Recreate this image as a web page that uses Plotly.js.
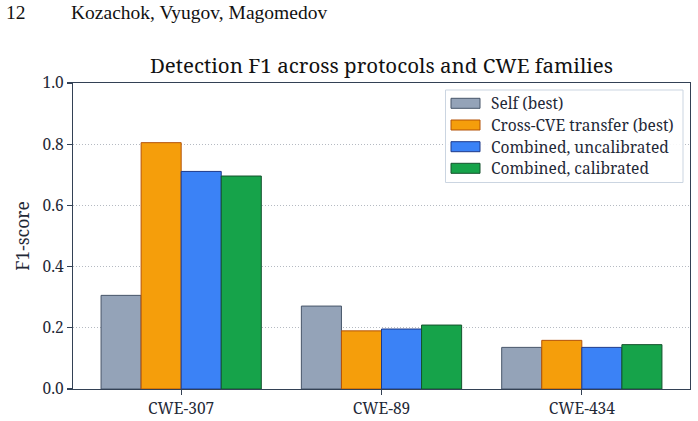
<!DOCTYPE html>
<html>
<head>
<meta charset="utf-8">
<script src="https://cdn.plot.ly/plotly-3.0.1.min.js"></script>
<style>
  html, body { margin: 0; padding: 0; background: #fff; }
  #chart { width: 698px; height: 421px; }
</style>
</head>
<body>
<div id="chart"></div>
<script>
// CWE families on the x axis
const categories = ["CWE-307", "CWE-89", "CWE-434"];

// F1 per evaluation protocol
const seriesNames = [
  "Self (best)",
  "Cross-CVE transfer (best)",
  "Combined, uncalibrated",
  "Combined, calibrated"
];
const selfBest       = [0.306, 0.271, 0.136];
const crossTransfer  = [0.805, 0.190, 0.159];
const combinedUncal  = [0.711, 0.196, 0.136];
const combinedCal    = [0.696, 0.209, 0.145];

const yTickValues = [0.0, 0.2, 0.4, 0.6, 0.8, 1.0];
const yTickLabels = ["0.0", "0.2", "0.4", "0.6", "0.8", "1.0"];

const fills   = ["#94a3b8", "#f59e0b", "#3b82f6", "#16a34a"];
const edges   = ["#475569", "#b45309", "#1e3a8a", "#14532d"];
const values  = [selfBest, crossTransfer, combinedUncal, combinedCal];

const SERIF = "Noto Serif, serif";
const INK = "#1f2937";
const SPINE = "#334155";

const traces = values.map((v, i) => ({
  type: "bar",
  name: seriesNames[i],
  x: categories,
  y: v,
  marker: { color: fills[i], line: { color: edges[i], width: 1 } },
  showlegend: false,
  hoverinfo: "skip"
}));

// Legend drawn as paper-space swatches with wide rectangles
const legendShapes = [];
const legendNotes = [];
const plotL = 73, plotR = 690, plotT = 83, plotB = 389;
const W = 698, H = 421;
const px = x => (x - plotL) / (plotR - plotL);
const py = y => (plotB - y) / (plotB - plotT);

legendShapes.push({
  type: "rect", xref: "paper", yref: "paper",
  x0: px(445.5), x1: px(683), y0: py(182.5), y1: py(90),
  line: { color: "#cbd5e1", width: 1 }, fillcolor: "rgba(255,255,255,0.9)",
  layer: "above"
});
const rowY = [103.3, 125, 146.7, 168.3];
seriesNames.forEach((name, i) => {
  legendShapes.push({
    type: "rect", xref: "paper", yref: "paper",
    x0: px(451), x1: px(480), y0: py(rowY[i] + 5), y1: py(rowY[i] - 5),
    fillcolor: fills[i], line: { color: edges[i], width: 1 }, layer: "above"
  });
  legendNotes.push({
    xref: "paper", yref: "paper", x: px(489), y: py(rowY[i]),
    xanchor: "left", yanchor: "middle", showarrow: false,
    text: name, font: { family: SERIF, size: 15.5, color: INK }
  });
});

// Running head above the figure
legendNotes.push({
  xref: "paper", yref: "paper", x: px(4), y: py(13),
  xanchor: "left", yanchor: "middle", showarrow: false,
  text: "12", font: { family: "Liberation Serif, serif", size: 19.5, color: "#111" }
});
legendNotes.push({
  xref: "paper", yref: "paper", x: px(69), y: py(13),
  xanchor: "left", yanchor: "middle", showarrow: false,
  text: "Kozachok, Vyugov, Magomedov", font: { family: "Liberation Serif, serif", size: 19.5, color: "#111" }
});

const layout = {
  width: W, height: H,
  margin: { l: plotL, r: W - plotR, t: plotT, b: H - plotB },
  paper_bgcolor: "#fff", plot_bgcolor: "#fff",
  barmode: "group", bargap: 0.2, bargroupgap: 0,
  title: {
    text: "Detection F1 across protocols and CWE families",
    font: { family: SERIF, size: 20.5, color: "#111" },
    x: 0.5, xref: "paper", xanchor: "center",
    y: 1 - 66 / H, yref: "container", yanchor: "middle"
  },
  xaxis: {
    type: "category", range: [-0.54, 2.54],
    showline: true, linecolor: SPINE, linewidth: 1.2, mirror: true,
    ticks: "outside", ticklen: 5, tickcolor: SPINE, tickwidth: 1.2,
    showgrid: false, zeroline: false,
    tickfont: { family: SERIF, size: 15.5, color: INK }
  },
  yaxis: {
    range: [0, 1.0], tickvals: yTickValues, ticktext: yTickLabels,
    showline: true, linecolor: SPINE, linewidth: 1.2, mirror: true,
    ticks: "outside", ticklen: 5, tickcolor: SPINE, tickwidth: 1.2,
    showgrid: true, gridcolor: "#a3a9b3", griddash: "1px,2px", gridwidth: 0.8,
    zeroline: false,
    tickfont: { family: SERIF, size: 15.5, color: INK },
    title: { text: "F1-score", font: { family: SERIF, size: 17.5, color: INK }, standoff: 8 }
  },
  shapes: legendShapes,
  annotations: legendNotes,
  showlegend: false
};

Plotly.newPlot("chart", traces, layout, { displayModeBar: false, staticPlot: true });
</script>
</body>
</html>
